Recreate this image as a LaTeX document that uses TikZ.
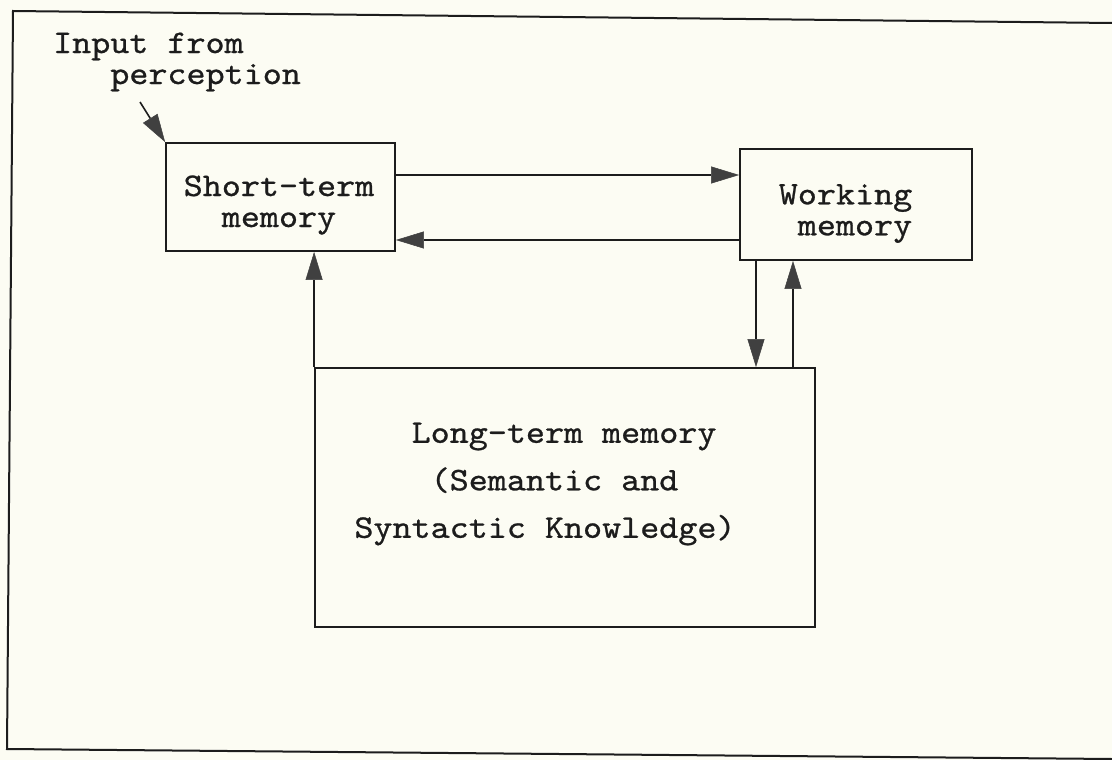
\documentclass[tikz,border=0pt]{standalone}
\usepackage{fontspec}
\newfontfamily\tw[FakeStretch=1.1,FakeBold=0.8]{lmmono10-regular.otf}
\usetikzlibrary{arrows.meta}
\definecolor{paper}{RGB}{252,252,243}
\definecolor{ink}{RGB}{28,28,28}
\definecolor{tipc}{RGB}{64,64,64}
\tikzset{
  box/.style={draw=ink, line width=1.8pt, rectangle, inner sep=0pt},
  txt/.style={inner sep=0pt, font=\tw\fontsize{33}{31}\selectfont, text=ink},
  bigtxt/.style={inner sep=0pt, font=\tw\fontsize{33}{47.5}\selectfont, text=ink, align=left},
  arr/.style={draw=ink, line width=1.6pt,
    -{Triangle[length=28pt,width=17pt,color=tipc,line width=0.5pt]}},
}
\begin{document}
\begin{tikzpicture}[x=1pt,y=-1pt]
\useasboundingbox (0,0) rectangle (1112,760);
\fill[paper] (0,0) rectangle (1112,760);
% outer frame (open at right)
\draw[ink, line width=2pt] (1112,23) -- (13,11) -- (7,749) -- (1112,759);
% boxes
\node[box, minimum width=229pt, minimum height=108pt] (stm) at (280.5,197) {};
\node[box, minimum width=232pt, minimum height=111pt] (wm) at (856,204.5) {};
\node[box, minimum width=500pt, minimum height=259pt] (ltm) at (565,497.5) {};
% texts
\node[txt, align=center] (stmtext) at (279,205) {Short-term\\memory};
\node[txt, align=left] (wmtext) at (845.5,213.5) {Working\\\phantom{x}memory};
\node[bigtxt] (ltmtext) at (545,484) {\phantom{xxx}Long-term memory\\\phantom{xxxx}(Semantic and\\Syntactic Knowledge)};
\node[txt, align=left] (intext) at (177,62) {Input from\\\phantom{xxx}perception};
% connectors
\coordinate (intail) at (140,102);
\draw[arr] (intail) -- (stm.north west);
\draw[arr] (stm.east |- 0,175) -- (wm.west |- 0,175);
\draw[arr] (wm.west |- 0,240) -- (stm.east |- 0,240);
\draw[arr] (wm.south -| 756,0) -- (ltm.north -| 756,0);
\draw[arr] (ltm.north -| 793,0) -- (wm.south -| 793,0);
\draw[arr] (ltm.north west) -- (stm.south -| ltm.west);
\end{tikzpicture}
\end{document}
